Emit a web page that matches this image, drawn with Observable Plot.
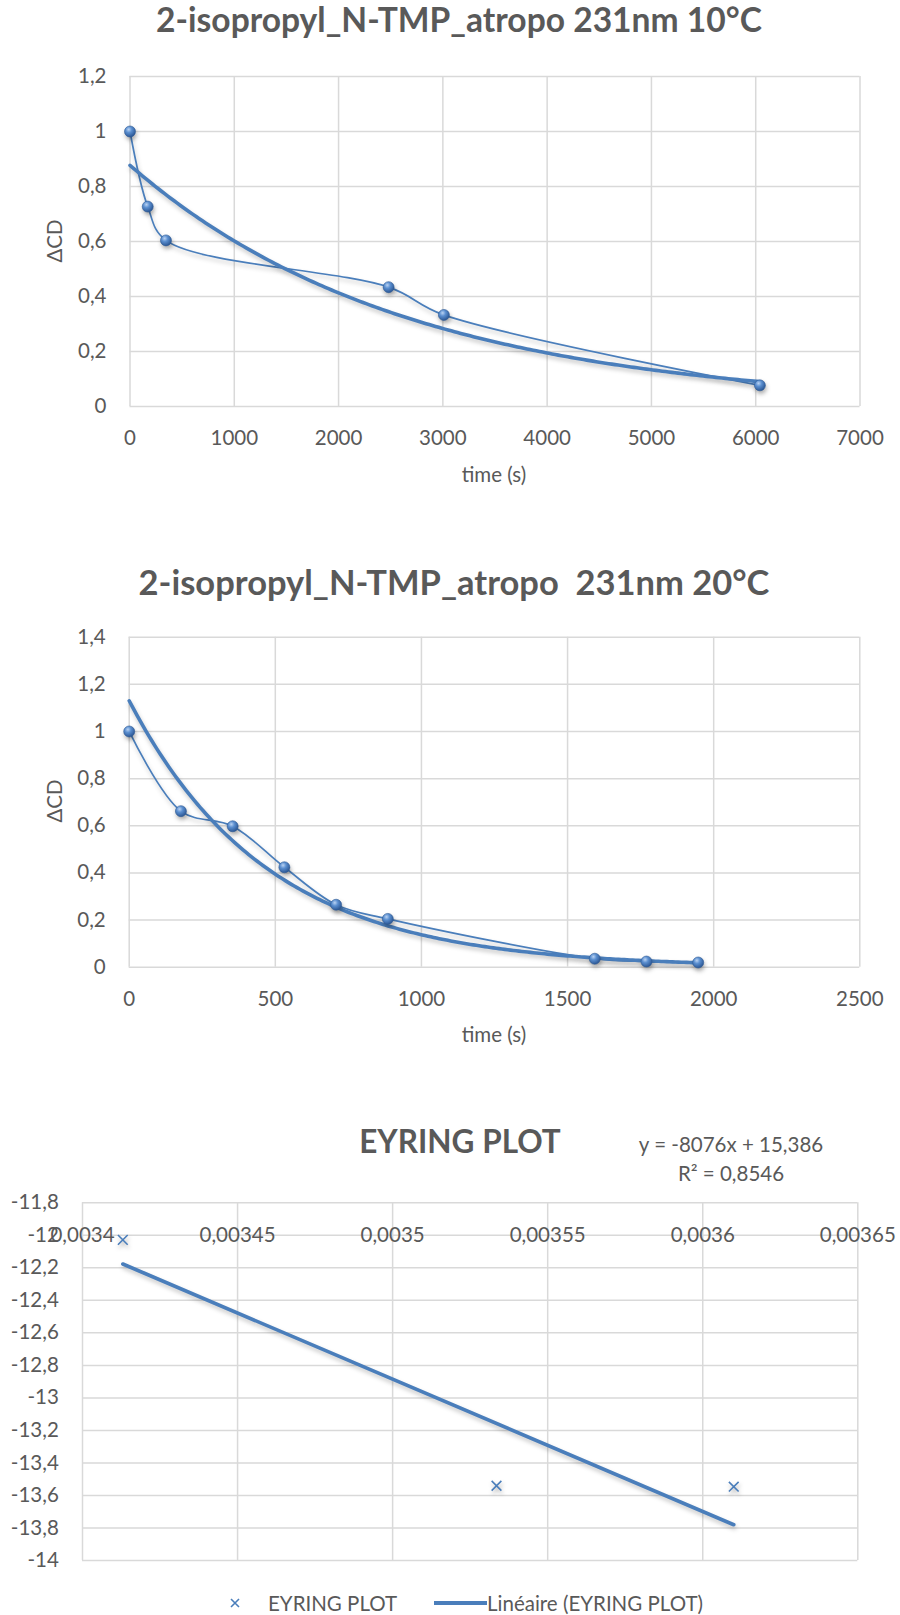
<!DOCTYPE html>
<html><head><meta charset="utf-8">
<script src="https://cdn.jsdelivr.net/npm/d3@7"></script>
<script src="https://cdn.jsdelivr.net/npm/@observablehq/plot@0.6"></script>
<style>
body{margin:0;background:#fff;}
#root{position:relative;width:900px;height:1615px;font-family:Lato,"Open Sans",sans-serif;color:#595959;overflow:hidden;}
.abs{position:absolute;white-space:pre;line-height:1;transform:translate(-50%,-50%);}
.title{font-weight:bold;font-size:33.6px;}
.lab{font-size:20.5px;}
.chart{position:absolute;left:0;}
.chart svg{overflow:visible;}
.chart g[aria-label="line"] path,.chart g[aria-label="linear-regression"] path{filter:drop-shadow(1px 3px 2px rgba(0,0,0,0.22));}
.chart g[aria-label="dot"] path,.chart g[aria-label="dot"] circle{filter:drop-shadow(1px 3px 2px rgba(0,0,0,0.3));}
</style>
</head><body>
<svg width="0" height="0" style="position:absolute">
  <defs>
    <radialGradient id="ball" cx="38%" cy="32%" r="70%">
      <stop offset="0%" stop-color="#b9d2f2"/>
      <stop offset="40%" stop-color="#5b8fd0"/>
      <stop offset="100%" stop-color="#2a5592"/>
    </radialGradient>
  </defs>
</svg>
<div id="root"></div>
<script>
// ---------- data ----------
const title10 = "2-isopropyl_N-TMP_atropo 231nm 10°C";
const time10 = [0, 170, 345, 2480, 3010, 6040];
const cd10 = [1.0, 0.727, 0.604, 0.434, 0.333, 0.077];
const xTicks10 = [0, 1000, 2000, 3000, 4000, 5000, 6000, 7000];
const yTicks10 = [0, 0.2, 0.4, 0.6, 0.8, 1, 1.2];

const title20 = "2-isopropyl_N-TMP_atropo  231nm 20°C";
const time20 = [0, 177, 354, 531, 708, 885, 1593, 1770, 1947];
const cd20 = [1.0, 0.662, 0.598, 0.424, 0.265, 0.205, 0.036, 0.024, 0.02];
const xTicks20 = [0, 500, 1000, 1500, 2000, 2500];
const yTicks20 = [0, 0.2, 0.4, 0.6, 0.8, 1, 1.2, 1.4];

const titleE = "EYRING PLOT";
const invT = [0.003413, 0.0035335, 0.00361];
const lnK = [-12.028, -13.54, -13.546];
const xTicksE = [0.0034, 0.00345, 0.0035, 0.00355, 0.0036, 0.00365];
const yTicksE = [-14, -13.8, -13.6, -13.4, -13.2, -13, -12.8, -12.6, -12.4, -12.2, -12, -11.8];
const xAxisCrossE = -12;
const eqText = "y = -8076x + 15,386";
const r2Text = "R² = 0,8546";
const legendSeries = "EYRING PLOT";
const legendTrend = "Linéaire (EYRING PLOT)";
const xLabel = "time (s)";
const yLabel = "ΔCD";

// ---------- helpers ----------
const BLUE = "#4a7ebb";
const GRID = "#d9d9d9";
const fr = d => String(d).replace(".", ",");
const root = document.getElementById("root");
function addText(txt, cls, x, y, extra) {
  const el = document.createElement("div");
  el.className = "abs " + cls;
  el.textContent = txt;
  el.style.left = x + "px"; el.style.top = y + "px";
  if (extra) Object.assign(el.style, extra);
  root.appendChild(el);
  return el;
}
function addChart(svg, top) {
  const d = document.createElement("div");
  d.className = "chart"; d.style.top = top + "px";
  d.appendChild(svg); root.appendChild(d);
}
// exponential least-squares fit on ln(y), as a spreadsheet trendline does
function expTrend(xs, ys) {
  const lx = ys.map(Math.log);
  const mx = d3.mean(xs), my = d3.mean(lx);
  let sxy = 0, sxx = 0;
  xs.forEach((x, i) => { sxy += (x - mx) * (lx[i] - my); sxx += (x - mx) ** 2; });
  const b = sxy / sxx, a = Math.exp(my - b * mx);
  const [x0, x1] = d3.extent(xs);
  return d3.range(0, 201).map(i => { const t = x0 + (x1 - x0) * i / 200; return {t, v: a * Math.exp(b * t)}; });
}
const style = {fontFamily: "Lato, 'Open Sans', sans-serif", fontSize: "20.5px", color: "#595959", background: "transparent"};

function decayChart(times, cds, xTicks, yTicks, o) {
  const rows = times.map((t, i) => ({t, v: cds[i]}));
  return Plot.plot({
    width: 900, height: 450,
    marginTop: o.mt, marginBottom: o.mb, marginLeft: o.ml, marginRight: o.mr,
    style,
    x: {domain: d3.extent(xTicks), ticks: xTicks, tickSize: 0, tickPadding: o.xp, tickFormat: fr, label: null},
    y: {domain: d3.extent(yTicks), ticks: yTicks, tickSize: 0, tickPadding: 23.5, tickFormat: fr, label: null},
    marks: [
      Plot.ruleX(xTicks, {stroke: GRID, strokeWidth: 1.5}),
      Plot.ruleY(yTicks, {stroke: GRID, strokeWidth: 1.5}),
      Plot.line(rows, {x: "t", y: "v", curve: "catmull-rom", stroke: BLUE, strokeWidth: 1.7}),
      Plot.line(expTrend(times, cds), {x: "t", y: "v", stroke: BLUE, strokeWidth: 3.6}),
      Plot.dot(rows, {x: "t", y: "v", r: 5.5, fill: "url(#ball)", stroke: "#2d5a97", strokeWidth: 0.6})
    ]
  });
}

// ---------- chart 1 ----------
addText(title10, "title", 459, 20);
addChart(decayChart(time10, cd10, xTicks10, yTicks10, {mt: 26, mb: 94, ml: 129.5, mr: 40.5, xp: 23.5}), 50);
addText(yLabel, "lab", 54, 241, {transform: "translate(-50%,-50%) rotate(-90deg)"});
addText(xLabel, "lab", 494, 474);

// ---------- chart 2 ----------
addText(title20, "title", 454, 582, {fontSize: "34.5px"});
addChart(decayChart(time20, cd20, xTicks20, yTicks20, {mt: 26.7, mb: 93.3, ml: 128.7, mr: 40.7, xp: 23.8}), 610);
addText(yLabel, "lab", 54, 801, {transform: "translate(-50%,-50%) rotate(-90deg)"});
addText(xLabel, "lab", 494, 1034);

// ---------- chart 3 ----------
addText(titleE, "title", 460, 1142, {fontSize: "31.5px"});
addText(eqText, "lab", 731, 1144);
addText(r2Text, "lab", 731, 1173);
const rowsE = invT.map((x, i) => ({x, y: lnK[i]}));
const eyring = Plot.plot({
  width: 900, height: 400,
  marginTop: 32.3, marginBottom: 10, marginLeft: 82, marginRight: 42.7,
  style,
  x: {domain: d3.extent(xTicksE), axis: null},
  y: {domain: d3.extent(yTicksE), ticks: yTicksE, tickSize: 0, tickPadding: 23.7, tickFormat: fr, label: null},
  marks: [
    Plot.ruleX(xTicksE, {stroke: GRID, strokeWidth: 1.5}),
    Plot.ruleY(yTicksE, {stroke: GRID, strokeWidth: 1.5}),
    Plot.text(xTicksE, {x: d => d, y: () => xAxisCrossE, text: fr, fill: "#595959", fontSize: 20.5}),
    Plot.linearRegressionY(rowsE, {x: "x", y: "y", ci: 0, stroke: BLUE, strokeWidth: 3.6}),
    Plot.dot(rowsE, {x: "x", y: "y", symbol: "times", r: 4.5, stroke: BLUE, strokeWidth: 1.6})
  ]
});
addChart(eyring, 1170);

// legend
const lg = document.createElement("div");
lg.innerHTML = `<svg width="14" height="14" style="position:absolute;left:228px;top:1596px"><path d="M3,3L11,11M11,3L3,11" stroke="${BLUE}" stroke-width="1.6"/></svg>
<svg width="54" height="8" style="position:absolute;left:434px;top:1599px"><line x1="0" y1="4" x2="53" y2="4" stroke="${BLUE}" stroke-width="4"/></svg>`;
root.appendChild(lg);
addText(legendSeries, "lab", 268, 1603, {transform: "translate(0,-50%)"});
addText(legendTrend, "lab", 487, 1603, {transform: "translate(0,-50%)"});
</script>
</body></html>
